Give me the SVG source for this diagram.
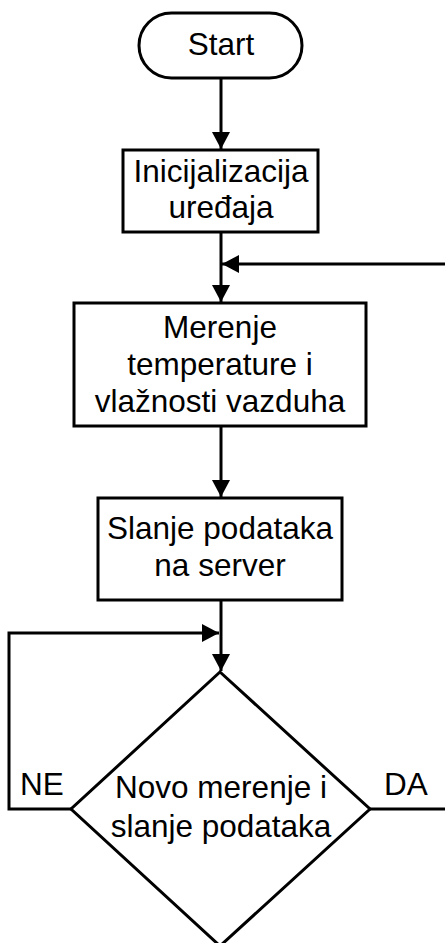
<svg xmlns="http://www.w3.org/2000/svg" width="445" height="943" viewBox="0 0 445 943">
<defs>
<marker id="arr" markerUnits="userSpaceOnUse" markerWidth="18" markerHeight="18" refX="17" refY="9" orient="auto">
<path d="M0,0 L17,9 L0,18 z" fill="#000"/>
</marker>
<style>
.sh{fill:#fff;stroke:#000;stroke-width:3}
.ln{fill:none;stroke:#000;stroke-width:3}
.t{font-family:"Liberation Sans",Arial,sans-serif;font-size:31.5px;fill:#000;text-anchor:middle}
</style>
</defs>
<rect width="445" height="943" fill="#fff"/>
<g id="connectors">
<line class="ln" x1="221" y1="78" x2="221" y2="149" marker-end="url(#arr)"/>
<line class="ln" x1="221" y1="232" x2="221" y2="302" marker-end="url(#arr)"/>
<line class="ln" x1="445" y1="264" x2="222" y2="264" marker-end="url(#arr)"/>
<line class="ln" x1="221" y1="426" x2="221" y2="497" marker-end="url(#arr)"/>
<line class="ln" x1="221" y1="600" x2="221" y2="671" marker-end="url(#arr)"/>
<polyline class="ln" points="71,809 9,809 9,633 219,633" marker-end="url(#arr)"/>
<line class="ln" x1="370" y1="809" x2="445" y2="809"/>
</g>
<g id="start">
<rect class="sh" x="139" y="13" width="163" height="65" rx="32.5"/>
<text class="t" x="221" y="55">Start</text>
</g>
<g id="init">
<rect class="sh" x="123" y="150" width="195" height="82"/>
<text class="t" x="221" y="182">Inicijalizacija</text>
<text class="t" x="221" y="218">uređaja</text>
</g>
<g id="merenje">
<rect class="sh" x="74" y="303" width="292" height="123"/>
<text class="t" x="220" y="338">Merenje</text>
<text class="t" x="220" y="375">temperature i</text>
<text class="t" x="220" y="412">vlažnosti vazduha</text>
</g>
<g id="slanje">
<rect class="sh" x="98" y="498" width="244" height="102"/>
<text class="t" x="220" y="539">Slanje podataka</text>
<text class="t" x="220" y="576">na server</text>
</g>
<g id="decision">
<polygon class="sh" points="220,672 370,809 220,946 71,809"/>
<text class="t" x="221" y="798">Novo merenje i</text>
<text class="t" x="221" y="837">slanje podataka</text>
</g>
<g id="labels">
<text class="t" x="42" y="795">NE</text>
<text class="t" x="406" y="795">DA</text>
</g>
</svg>
